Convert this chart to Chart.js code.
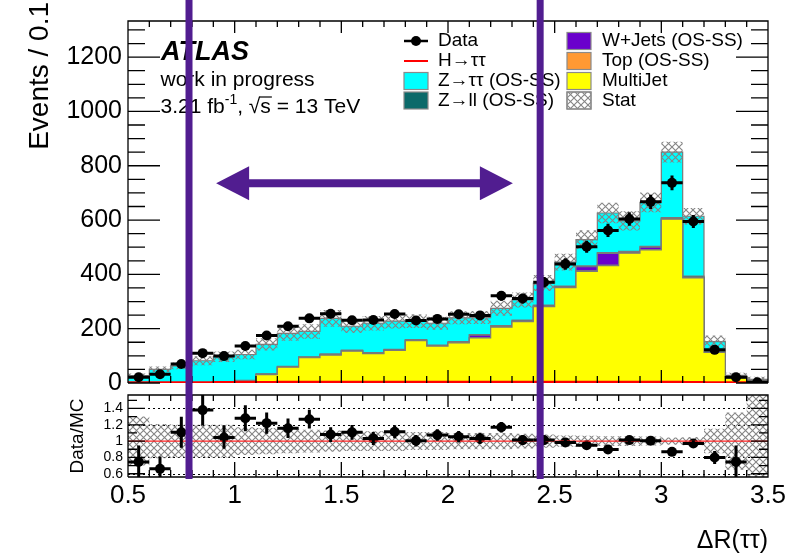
<!DOCTYPE html>
<html><head><meta charset="utf-8">
<script src="https://cdn.jsdelivr.net/npm/chart.js@4/dist/chart.umd.min.js"></script>
<style>
html,body{margin:0;padding:0;background:#fff;}
#wrap{position:relative;width:812px;height:554px;overflow:hidden;}
canvas{position:absolute;left:0;top:0;}
</style></head><body>
<div id="wrap"><canvas id="cTop" width="812" height="554"></canvas><canvas id="cBot" width="812" height="554"></canvas></div>
<script>
// ---------- data ----------
const binEdges = [0.5,0.6,0.7,0.8,0.9,1.0,1.1,1.2,1.3,1.4,1.5,1.6,1.7,1.8,1.9,2.0,2.1,2.2,2.3,2.4,2.5,2.6,2.7,2.8,2.9,3.0,3.1,3.2,3.3,3.4,3.5];
const dataEvents = [21,32,70,110,99,136,175,209,238,255,231,232,254,230,236,253,249,321,311,371,438,502,562,604,667,737,595,122,21,3];
const dataErr    = [5,6,8,10,10,12,13,14,15,16,15,15,16,15,15,16,16,18,18,19,21,22,24,25,26,27,24,11,5,2];
const multiJet   = [0,0,0,0,0,9,31,58,93,103,117,108,120,156,136,148,166,206,226,281,351,411,432,478,490,603,387,113,19,5];
const topOSSS    = [0,0,0,0,0,0,1,1,1,1,1,1,1,1,1,1,1,1,1,1,1,2,2,1,1,1,1,0,1,1];
const wJets      = [0,0,0,0,0,0,0,0,0,1,1,1,1,1,1,1,9,1,2,2,2,15,43,3,9,2,2,1,1,4];
const zll        = [0,1,1,1,1,1,2,2,2,2,2,2,2,2,2,2,2,3,3,3,3,3,3,3,3,3,4,7,2,1];
const ztautau    = [27,49,62,81,96,95,108,122,94,131,88,108,104,68,80,88,63,64,74,81,88,97,146,112,162,241,220,31,5,2];
const higgs      = [1,1,1,1,2,2,2,3,3,3,3,3,3,3,3,3,3,3,3,3,3,3,3,3,3,3,2,1,1,0];
const statRel    = [0.30,0.21,0.20,0.20,0.20,0.17,0.16,0.15,0.14,0.13,0.12,0.12,0.12,0.11,0.11,0.10,0.10,0.10,0.09,0.08,0.07,0.065,0.06,0.06,0.055,0.045,0.05,0.15,0.35,0.8];
const ratio      = [0.745,0.66,1.107,1.38,1.045,1.28,1.22,1.157,1.268,1.08,1.107,1.033,1.115,1.004,1.074,1.053,1.033,1.169,1.012,1.012,0.984,0.95,0.897,1.012,1.004,0.868,0.971,0.80,0.745,null];
const ratioErr   = [0.2,0.15,0.19,0.19,0.14,0.16,0.13,0.12,0.115,0.09,0.09,0.08,0.08,0.07,0.07,0.07,0.07,0.065,0.06,0.055,0.05,0.045,0.04,0.04,0.04,0.035,0.04,0.08,0.2,0];
const yTicksMain  = [0,200,400,600,800,1000,1200];
const yTicksRatio = [0.6,0.8,1,1.2,1.4];
const yTickLabelsRatio = ['0.6','0.8','1','1.2','1.4'];
const xTicks      = [0.5,1,1.5,2,2.5,3,3.5];
const xTickLabels = ['0.5','1','1.5','2','2.5','3','3.5'];
const cutLines    = [0.786, 2.432];
const arrowX      = [0.913, 2.304];
const arrowY      = 736;

// ---------- derived tables ----------
const centers = binEdges.slice(0,-1).map((e,i)=>(e+binEdges[i+1])/2);
const addArr = (...arrs) => arrs[0].map((_,i)=>arrs.reduce((s,a)=>s+a[i],0));
const cumMJ  = multiJet;
const cumTop = addArr(multiJet, topOSSS);
const cumW   = addArr(multiJet, topOSSS, wJets);
const cumZll = addArr(multiJet, topOSSS, wJets, zll);
const cumZtt = addArr(multiJet, topOSSS, wJets, zll, ztautau);
const statHi = cumZtt.map((v,i)=>v*(1+statRel[i]));
const statLo = cumZtt.map((v,i)=>v*(1-statRel[i]));
const rHi = statRel.map(r=>1+r), rLo = statRel.map(r=>1-r);
const stepPts = vals => binEdges.map((e,i)=>({x:e, y:vals[Math.min(i, vals.length-1)]}));

const FONT = '"Liberation Sans", Arial, Helvetica, sans-serif';
const PURPLE = '#511d90';
const COL = {cyan:'#00ffff', teal:'#0b6a6a', wj:'#6a00cc', top:'#ff9933', mj:'#ffff00', outline:'#7a7a7a'};

function makeHatch(){
  const s = 7;
  const c = document.createElement('canvas'); c.width = s; c.height = s;
  const g = c.getContext('2d');
  g.strokeStyle = '#858585'; g.lineWidth = 1.1;
  g.beginPath(); g.moveTo(0,0); g.lineTo(s,s); g.moveTo(s,0); g.lineTo(0,s); g.stroke();
  return g.createPattern(c,'repeat');
}
const hatch = makeHatch();

function stepDs(label, vals, opts){
  return Object.assign({label, data: stepPts(vals), stepped:true, pointRadius:0, tension:0, borderJoinStyle:'miter'}, opts);
}

// ---------- frame + inward ticks ----------
function framePlugin(cfg){
  return {
    id:'frame'+cfg.name,
    afterDatasetsDraw(chart){
      const {ctx, chartArea:a, scales:{x, y}} = chart;
      ctx.save();
      ctx.strokeStyle = '#000'; ctx.lineWidth = 1.3;
      ctx.beginPath();
      ctx.moveTo(a.left, a.bottom); ctx.lineTo(a.left, a.top); ctx.lineTo(a.right, a.top); ctx.lineTo(a.right, a.bottom);
      if (cfg.bottomLine) ctx.lineTo(a.left, a.bottom);
      binEdges.forEach(v=>{
        const px = x.getPixelForValue(v);
        const major = xTicks.some(t=>Math.abs(t-v)<1e-6);
        const lb = major ? cfg.xMajB : cfg.xMinB, lt = major ? cfg.xMajT : cfg.xMinT;
        ctx.moveTo(px, a.bottom); ctx.lineTo(px, a.bottom - lb);
        ctx.moveTo(px, a.top); ctx.lineTo(px, a.top + lt);
      });
      for (let v = cfg.yMinorStart; v <= y.max + 1e-9; v += cfg.yMinorStep){
        if (v < y.min - 1e-9) continue;
        const py = y.getPixelForValue(v);
        const major = cfg.yMajor.some(t=>Math.abs(t-v)<1e-6);
        const l = major ? cfg.yMaj : cfg.yMin;
        ctx.moveTo(a.left, py); ctx.lineTo(a.left + l, py);
        ctx.moveTo(a.right, py); ctx.lineTo(a.right - l, py);
      }
      ctx.stroke();
      ctx.restore();
    }
  };
}

// ---------- error bars ----------
const errorBars = {
  id:'errbars',
  afterDatasetsDraw(chart){
    const {ctx, chartArea:a, scales:{x, y}} = chart;
    chart.data.datasets.forEach((ds, di)=>{
      if (!ds.errY) return;
      const meta = chart.getDatasetMeta(di);
      ctx.save();
      ctx.beginPath(); ctx.rect(a.left, a.top, a.right-a.left, a.bottom-a.top); ctx.clip();
      ctx.strokeStyle = '#000'; ctx.lineWidth = 3;
      ds.data.forEach((p,i)=>{
        if (p.y == null) return;
        const el = meta.data[i];
        const x0 = x.getPixelForValue(binEdges[i]), x1 = x.getPixelForValue(binEdges[i+1]);
        ctx.beginPath();
        ctx.moveTo(x0, el.y); ctx.lineTo(x1, el.y);
        ctx.moveTo(el.x, y.getPixelForValue(p.y + ds.errY[i])); ctx.lineTo(el.x, y.getPixelForValue(p.y - ds.errY[i]));
        ctx.stroke();
      });
      ctx.restore();
    });
  }
};

// ---------- legend + labels + arrow (upper) ----------
const upperDecor = {
  id:'upperDecor',
  afterDraw(chart){
    const {ctx, scales:{x, y}} = chart;
    ctx.save();
    // y-axis title
    ctx.save();
    ctx.translate(40, 2); ctx.rotate(-Math.PI/2);
    ctx.font = '28px ' + FONT; ctx.fillStyle = '#000'; ctx.textAlign = 'right'; ctx.textBaseline = 'middle';
    ctx.fillText('Events / 0.1', 0, 0);
    ctx.restore();

    // arrow
    const xl = x.getPixelForValue(arrowX[0]), xr = x.getPixelForValue(arrowX[1]), ya = y.getPixelForValue(arrowY);
    const hl = 33, hh = 17;
    ctx.fillStyle = PURPLE; ctx.strokeStyle = PURPLE; ctx.lineWidth = 8;
    ctx.beginPath(); ctx.moveTo(xl+hl-2, ya); ctx.lineTo(xr-hl+2, ya); ctx.stroke();
    ctx.beginPath(); ctx.moveTo(xl, ya); ctx.lineTo(xl+hl, ya-hh); ctx.lineTo(xl+hl, ya+hh); ctx.closePath(); ctx.fill();
    ctx.beginPath(); ctx.moveTo(xr, ya); ctx.lineTo(xr-hl, ya-hh); ctx.lineTo(xr-hl, ya+hh); ctx.closePath(); ctx.fill();

    // ATLAS label
    ctx.fillStyle = '#000'; ctx.textBaseline = 'alphabetic'; ctx.textAlign = 'left';
    ctx.font = 'italic bold 27px ' + FONT; ctx.fillText('ATLAS', 161, 60);
    ctx.font = '21px ' + FONT; ctx.fillText('work in progress', 160.5, 86);
    let tx = 160.5; const ty = 113;
    const seg = (t, f, dy) => { ctx.font = f; ctx.fillText(t, tx, ty + (dy||0)); tx += ctx.measureText(t).width; };
    seg('3.21 fb', '21px ' + FONT);
    seg('-1', '14px ' + FONT, -9);
    seg(', ', '21px ' + FONT);
    seg('\u221A', '21px ' + FONT);
    const sx = tx; seg('s', '21px ' + FONT);
    ctx.lineWidth = 1.2; ctx.strokeStyle = '#000';
    ctx.beginPath(); ctx.moveTo(sx-1, ty-16); ctx.lineTo(tx+1, ty-16); ctx.stroke();
    seg(' = 13 TeV', '21px ' + FONT);

    // legend
    ctx.font = '19px ' + FONT; ctx.textBaseline = 'middle';
    const rows = [41, 61, 81, 100.5];
    const box = (bx, by, fill) => {
      ctx.fillStyle = fill; ctx.fillRect(bx, by-8.5, 24, 17);
      ctx.strokeStyle = '#8a8a8a'; ctx.lineWidth = 1.2; ctx.strokeRect(bx, by-8.5, 24, 17);
    };
    const c1 = 404, t1 = 438, c2 = 567, t2 = 602;
    ctx.strokeStyle = '#000'; ctx.lineWidth = 2.5;
    ctx.beginPath(); ctx.moveTo(c1, rows[0]); ctx.lineTo(c1+24, rows[0]); ctx.stroke();
    ctx.fillStyle = '#000'; ctx.beginPath(); ctx.arc(c1+12, rows[0], 5, 0, Math.PI*2); ctx.fill();
    ctx.fillText('Data', t1, rows[0]);
    ctx.strokeStyle = '#ff0000'; ctx.lineWidth = 2;
    ctx.beginPath(); ctx.moveTo(c1, rows[1]); ctx.lineTo(c1+24, rows[1]); ctx.stroke();
    ctx.fillStyle = '#000'; ctx.fillText('H\u2192\u03C4\u03C4', t1, rows[1]);
    box(c1, rows[2], COL.cyan); ctx.fillStyle = '#000'; ctx.fillText('Z\u2192\u03C4\u03C4 (OS-SS)', t1, rows[2]);
    box(c1, rows[3], COL.teal); ctx.fillStyle = '#000'; ctx.fillText('Z\u2192ll (OS-SS)', t1, rows[3]);
    box(c2, rows[0], COL.wj); ctx.fillStyle = '#000'; ctx.fillText('W+Jets (OS-SS)', t2, rows[0]);
    box(c2, rows[1], COL.top); ctx.fillStyle = '#000'; ctx.fillText('Top (OS-SS)', t2, rows[1]);
    box(c2, rows[2], COL.mj); ctx.fillStyle = '#000'; ctx.fillText('MultiJet', t2, rows[2]);
    box(c2, rows[3], '#ffffff'); ctx.fillStyle = hatch; ctx.fillRect(c2, rows[3]-8.5, 24, 17);
    ctx.strokeStyle = '#8a8a8a'; ctx.strokeRect(c2, rows[3]-8.5, 24, 17);
    ctx.fillStyle = '#000'; ctx.fillText('Stat', t2, rows[3]);
    ctx.restore();
  }
};

// ---------- lower decorations ----------
const lowerDecor = {
  id:'lowerDecor',
  beforeDatasetsDraw(chart){
    const {ctx, chartArea:a, scales:{y}} = chart;
    ctx.save();
    ctx.lineWidth = 1; ctx.strokeStyle = '#000'; ctx.setLineDash([2,3]);
    yTicksRatio.forEach(v=>{
      if (v === 1) return;
      const py = Math.round(y.getPixelForValue(v)) + 0.5;
      ctx.beginPath(); ctx.moveTo(a.left, py); ctx.lineTo(a.right, py); ctx.stroke();
    });
    ctx.restore();
  },
  afterDatasetsDraw(chart){
    const {ctx, chartArea:a, scales:{y}} = chart;
    ctx.save();
    ctx.strokeStyle = '#ff2020'; ctx.lineWidth = 1.2;
    const py = y.getPixelForValue(1);
    ctx.beginPath(); ctx.moveTo(a.left, py); ctx.lineTo(a.right, py); ctx.stroke();
    ctx.restore();
  },
  afterDraw(chart){
    const {ctx, chartArea:a, scales:{x}} = chart;
    ctx.save();
    ctx.strokeStyle = PURPLE; ctx.lineWidth = 7;
    cutLines.forEach(v=>{
      const px = x.getPixelForValue(v);
      ctx.beginPath(); ctx.moveTo(px, 0); ctx.lineTo(px, a.bottom + 2); ctx.stroke();
    });
    ctx.restore();
  }
};

// ---------- upper chart ----------
new Chart(document.getElementById('cTop'), {
  type:'line',
  data:{ datasets:[
    {label:'Data', data: centers.map((c,i)=>({x:c, y:dataEvents[i]})), showLine:false, pointRadius:5, pointBackgroundColor:'#000', pointBorderWidth:0, errY:dataErr, order:0},
    stepDs('H\u2192\u03C4\u03C4', higgs, {borderColor:'#ff0000', borderWidth:3, fill:false, order:1}),
    stepDs('Stat', statHi, {borderColor:'rgba(0,0,0,0)', borderWidth:1, fill:'+1', backgroundColor:hatch, order:2}),
    stepDs('StatLow', statLo, {borderColor:'rgba(0,0,0,0)', borderWidth:1, fill:false, order:3}),
    stepDs('MultiJet', cumMJ, {borderColor:COL.outline, borderWidth:1.2, backgroundColor:COL.mj, fill:'origin', order:4}),
    stepDs('Top (OS-SS)', cumTop, {borderColor:COL.outline, borderWidth:1.2, backgroundColor:COL.top, fill:'origin', order:5}),
    stepDs('W+Jets (OS-SS)', cumW, {borderColor:COL.outline, borderWidth:1.2, backgroundColor:COL.wj, fill:'origin', order:6}),
    stepDs('Z\u2192ll (OS-SS)', cumZll, {borderColor:COL.outline, borderWidth:1.2, backgroundColor:COL.teal, fill:'origin', order:7}),
    stepDs('Z\u2192\u03C4\u03C4 (OS-SS)', cumZtt, {borderColor:COL.outline, borderWidth:1.2, backgroundColor:COL.cyan, fill:'origin', order:8}),
  ]},
  options:{
    responsive:false, animation:false, events:[],
    layout:{padding:{left:0, right:44, top:15, bottom:171}},
    plugins:{legend:{display:false}, tooltip:{enabled:false}},
    scales:{
      x:{type:'linear', display:false, min:0.5, max:3.5},
      y:{type:'linear', min:0, max:1333,
         afterBuildTicks: s => { s.ticks = yTicksMain.map(v=>({value:v})); },
         afterFit: s => { s.width = 128; },
         grid:{display:false, drawTicks:false}, border:{display:false},
         ticks:{color:'#000', font:{family:FONT, size:25}, padding:6, callback:v=>String(v)}
      }
    }
  },
  plugins:[framePlugin({name:'u', bottomLine:false, xMajB:13, xMinB:7, xMajT:12, xMinT:6, yMajor:yTicksMain, yMinorStart:0, yMinorStep:50, yMaj:32, yMin:17}), errorBars, upperDecor]
});

// ---------- lower (ratio) chart ----------
new Chart(document.getElementById('cBot'), {
  type:'line',
  data:{ datasets:[
    {label:'Data/MC', data: centers.map((c,i)=>({x:c, y:ratio[i]})), showLine:false, pointRadius:5, pointBackgroundColor:'#000', pointBorderWidth:0, errY:ratioErr, order:0},
    stepDs('StatR', rHi, {borderColor:'rgba(0,0,0,0)', borderWidth:1, fill:'+1', backgroundColor:hatch, order:1}),
    stepDs('StatRLow', rLo, {borderColor:'rgba(0,0,0,0)', borderWidth:1, fill:false, order:2}),
  ]},
  options:{
    responsive:false, animation:false, events:[],
    layout:{padding:{left:0, right:44, top:395, bottom:0}},
    plugins:{legend:{display:false}, tooltip:{enabled:false}},
    scales:{
      x:{type:'linear', min:0.5, max:3.5,
         afterBuildTicks: s => { s.ticks = xTicks.map(v=>({value:v})); },
         afterFit: s => { s.height = 77; },
         grid:{display:false, drawTicks:false}, border:{display:false},
         ticks:{color:'#000', font:{family:FONT, size:26}, padding:3, maxRotation:0, autoSkip:false,
                callback:(v,i)=>xTickLabels[i]},
         title:{display:true, text:'\u0394R(\u03C4\u03C4)', align:'end', color:'#000', font:{family:FONT, size:25, lineHeight:1}, padding:{top:0, bottom:0}}
      },
      y:{type:'linear', min:0.56, max:1.565,
         afterBuildTicks: s => { s.ticks = yTicksRatio.map(v=>({value:v})); },
         afterFit: s => { s.width = 128; },
         grid:{display:false, drawTicks:false}, border:{display:false},
         ticks:{color:'#000', font:{family:FONT, size:14}, padding:5, callback:(v,i)=>yTickLabelsRatio[i]},
         title:{display:true, text:'Data/MC', align:'center', color:'#000', font:{family:FONT, size:19}, padding:{top:66, bottom:0}}
      }
    }
  },
  plugins:[lowerDecor, framePlugin({name:'l', bottomLine:true, xMajB:15, xMinB:7, xMajT:12, xMinT:6, yMajor:yTicksRatio, yMinorStart:0.6, yMinorStep:0.1, yMaj:17, yMin:9}), errorBars]
});
</script>
</body></html>
